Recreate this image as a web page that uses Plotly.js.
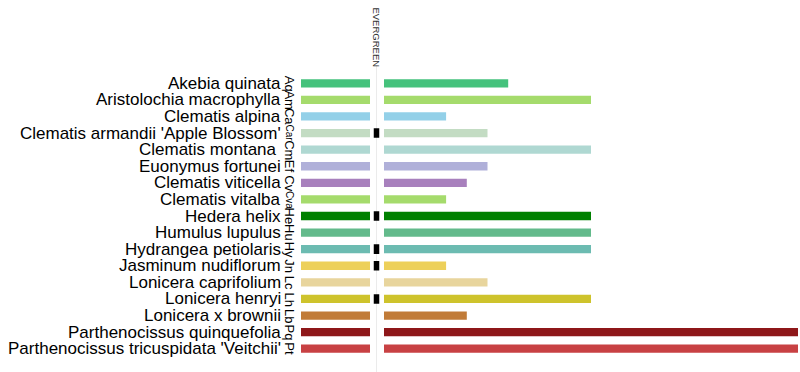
<!DOCTYPE html>
<html>
<head>
<meta charset="utf-8">
<script src="https://cdn.plot.ly/plotly-3.0.1.min.js"></script>
<style>html,body{margin:0;padding:0;background:#fff;}#chart{width:800px;height:372px;}</style>
</head>
<body>
<div id="chart"></div>
<script>
const names = ["Akebia quinata","Aristolochia macrophylla","Clematis alpina","Clematis armandii 'Apple Blossom'","Clematis montana ","Euonymus fortunei","Clematis viticella","Clematis vitalba","Hedera helix","Humulus lupulus","Hydrangea petiolaris","Jasminum nudiflorum","Lonicera caprifolium","Lonicera henryi","Lonicera x brownii","Parthenocissus quinquefolia","Parthenocissus tricuspidata 'Veitchii'"];
const codes = ["Aq","Am","Ca","Car","Cm","Ef","Cv","Cva","He","Hu","Hy","Jn","Lc","Lh","Lb","Pq","Pt"];
const heights = [6,10,3,5,10,5,4,3,10,10,10,3,5,10,4,20,20];
const evergreen = [0,0,0,1,0,0,0,0,1,0,1,1,0,1,0,0,0];
const colors = ["#45c27c","#a5db6c","#93d0e8","#c3dcc3","#afd8d2","#b0b0d9","#a880bd","#a5db6c","#008000","#63ba8b","#6cbbb1","#edd05a","#e8d59d","#cec32c","#c17b38","#8e1719","#c84143"];

const W = 800;
const traces = [
  {type:'bar', orientation:'h', y:codes, x:codes.map(()=>1), xaxis:'x', yaxis:'y',
   marker:{color:colors}, width:0.5, hoverinfo:'none'},
  {type:'bar', orientation:'h', y:codes, x:evergreen, xaxis:'x2', yaxis:'y',
   marker:{color:'#000'}, width:0.58, hoverinfo:'none'},
  {type:'bar', orientation:'h', y:codes, x:heights, xaxis:'x3', yaxis:'y',
   marker:{color:colors}, width:0.5, hoverinfo:'none'}
];

const annotations = [];
names.forEach((n,i)=>{
  annotations.push({xref:'paper', yref:'y', x:283/W, y:codes[i], text:n, showarrow:false,
    xanchor:'right', yanchor:'middle', font:{family:'Liberation Sans, Arial', size:17, color:'#000'}});
  const small = codes[i].length > 2;
  annotations.push({xref:'paper', yref:'y', x:289.5/W, y:codes[i], text:codes[i], showarrow:false,
    textangle:90, xanchor:'center', yanchor:'middle',
    font:{family:'Liberation Sans, Arial', size: small ? 10 : 13, color:'#000'}});
});
annotations.push({xref:'paper', yref:'paper', x:376.5/W, y:1.135, text:'EVERGREEN', showarrow:false,
  textangle:90, xanchor:'center', yanchor:'middle', font:{family:'Liberation Sans, Arial', size:9.5, color:'#333'}});

const hidden = {visible:false, fixedrange:true};
const layout = {
  width:800, height:372,
  margin:{l:0, r:0, t:75, b:15},
  paper_bgcolor:'#fff', plot_bgcolor:'rgba(0,0,0,0)',
  showlegend:false,
  xaxis: Object.assign({domain:[301/W, 370/W], range:[0,1], anchor:'y'}, hidden),
  xaxis2: Object.assign({domain:[373.5/W, 379.5/W], range:[0,1], anchor:'y'}, hidden),
  xaxis3: Object.assign({domain:[384/W, 798/W], range:[0,20], anchor:'y'}, hidden),
  yaxis: {type:'category', categoryorder:'array', categoryarray:codes, range:[16.5,-0.5], visible:false, fixedrange:true},
  shapes:[{type:'line', xref:'paper', yref:'paper', x0:376.5/W, x1:376.5/W, y0:-0.06, y1:1.035,
    line:{color:'#ebebeb', width:1}, layer:'below'}],
  annotations: annotations
};
Plotly.newPlot('chart', traces, layout, {staticPlot:true, displayModeBar:false});
</script>
</body>
</html>
